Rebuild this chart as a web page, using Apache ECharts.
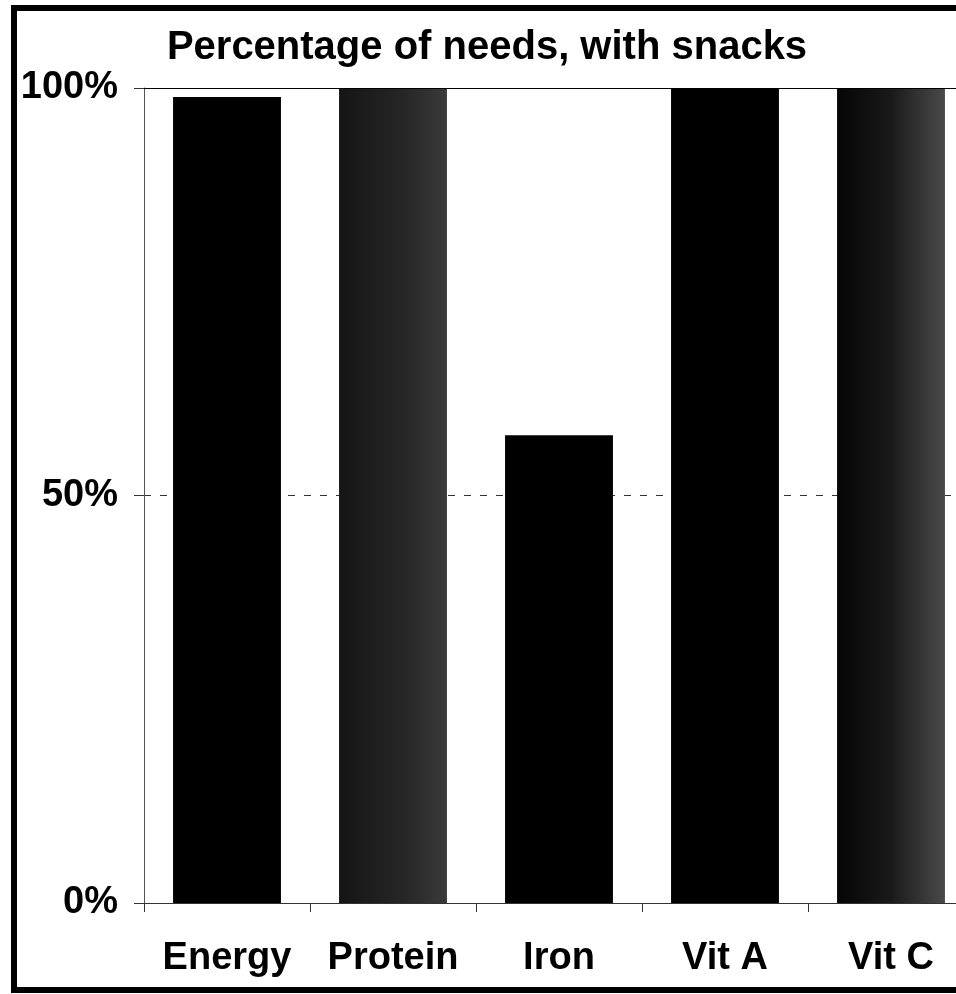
<!DOCTYPE html>
<html>
<head>
<meta charset="utf-8">
<script src="https://cdn.jsdelivr.net/npm/echarts@6/dist/echarts.min.js"></script>
<style>
html,body{margin:0;padding:0;background:#fff;overflow:hidden;width:956px;height:994px;}
#c{width:974px;height:994px;}
</style>
</head>
<body>
<div id="c"></div>
<script>
const titleText = 'Percentage of needs, with snacks';
const categories = ['Energy', 'Protein', 'Iron', 'Vit A', 'Vit C'];
const values = [98.9, 100, 57.4, 100, 100];
const yTicks = [0, 50, 100];

const FONT = '"Liberation Sans", Arial, sans-serif';
const solidBlack = '#000000';
const texturedProtein = {
  type: 'linear', x: 0, y: 0, x2: 1, y2: 0,
  colorStops: [{offset: 0, color: '#151515'}, {offset: 0.6, color: '#262626'}, {offset: 1, color: '#3a3a3a'}]
};
const texturedVitC = {
  type: 'linear', x: 0, y: 0, x2: 1, y2: 0,
  colorStops: [{offset: 0, color: '#050505'}, {offset: 0.5, color: '#1a1a1a'}, {offset: 1, color: '#4a4a4a'}]
};
const barColors = [solidBlack, texturedProtein, solidBlack, solidBlack, texturedVitC];

const chart = echarts.init(document.getElementById('c'), null, {renderer: 'canvas'});
chart.setOption({
  animation: false,
  backgroundColor: '#ffffff',
  title: {
    text: titleText,
    left: 482,
    top: 23,
    textAlign: 'center',
    textStyle: {fontFamily: FONT, fontWeight: 'bold', fontSize: 40, color: '#000'}
  },
  graphic: [{
    type: 'rect',
    shape: {x: 14, y: 8, width: 970, height: 982},
    style: {fill: 'none', stroke: '#000', lineWidth: 6},
    silent: true
  }],
  grid: {left: 144, right: 0, top: 88, bottom: 91},
  xAxis: {
    type: 'category',
    data: categories,
    axisLine: {show: true, lineStyle: {color: '#333', width: 1}},
    axisTick: {show: true, interval: 0, alignWithLabel: false, length: 9, lineStyle: {color: '#333'}},
    axisLabel: {interval: 0, hideOverlap: false, fontFamily: FONT, fontWeight: 'bold', fontSize: 38, color: '#000', margin: 37}
  },
  yAxis: {
    type: 'value',
    min: 0, max: 100, interval: 50,
    axisLine: {show: true, lineStyle: {color: '#555', width: 1}},
    axisTick: {show: true, length: 10, lineStyle: {color: '#333'}},
    splitLine: {show: true, lineStyle: {color: '#333', type: [7, 9], width: 1}},
    axisLabel: {
      fontFamily: FONT, fontWeight: 'bold', fontSize: 38, color: '#000', margin: 26,
      formatter: v => yTicks.includes(v) ? v + '%' : ''
    }
  },
  series: [{
    type: 'bar',
    barCategoryGap: '35%',
    data: values.map((v, i) => ({value: v, itemStyle: {color: barColors[i]}})),
    markLine: {
      silent: true,
      symbol: 'none',
      label: {show: false},
      lineStyle: {color: '#000', type: 'solid', width: 1},
      data: [{yAxis: 100}]
    }
  }]
});
</script>
</body>
</html>
